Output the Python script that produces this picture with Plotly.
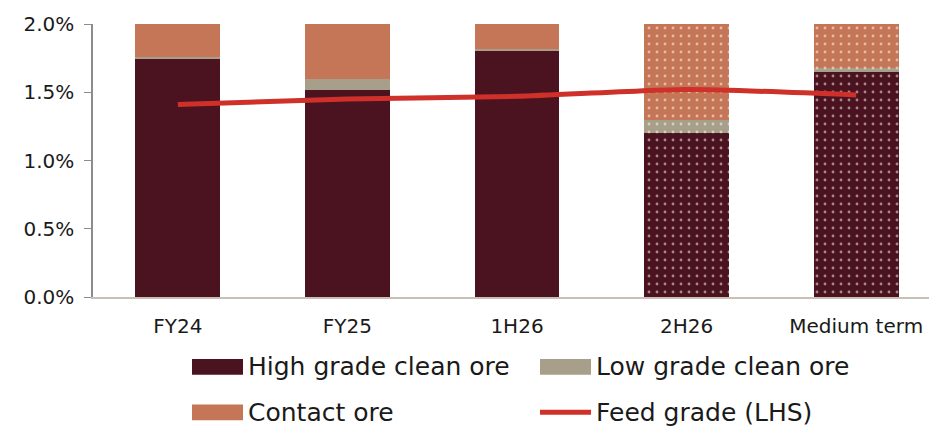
"""Ore mix by category vs feed grade."""

import plotly.graph_objects as go

categories = ["FY24", "FY25", "1H26", "2H26", "Medium term"]
high_grade = [1.74, 1.515, 1.80, 1.20, 1.645]
low_grade = [0.02, 0.085, 0.02, 0.10, 0.03]
contact_ore = [0.24, 0.40, 0.18, 0.70, 0.325]
feed_grade = [1.41, 1.45, 1.47, 1.52, 1.48]
patterns = ["", "", "", ".", "."]

FONT = "DejaVu Sans"
W, H = 937, 428
OFF = 8  # page body margin in the browser
L, R, T, B = 85, 4, 12, 139

colors = {
    "High grade clean ore": "#4A131F",
    "Low grade clean ore": "#A89F8A",
    "Contact ore": "#C47657",
}

fig = go.Figure()
for name, vals in [("High grade clean ore", high_grade),
                   ("Low grade clean ore", low_grade),
                   ("Contact ore", contact_ore)]:
    fig.add_trace(go.Bar(
        x=categories, y=vals, name=name, width=0.5,
        marker=dict(
            color=colors[name], line=dict(width=0),
            pattern=dict(shape=patterns, fgcolor="white", size=8, solidity=0.1),
        ),
        showlegend=False,
    ))

fig.add_trace(go.Scatter(
    x=categories, y=feed_grade, name="Feed grade (LHS)",
    mode="lines", line=dict(color="#CF302A", width=5, shape="spline", smoothing=0.6),
    showlegend=False,
))

# manual legend (wide swatches like the original); positions in screen pixels
pw, ph = W - L - R, H - T - B


def px(x):
    return (x - OFF - L) / pw


def py(y):
    return (H - B - (y - OFF)) / ph


legend_items = [
    ("High grade clean ore", "rect", colors["High grade clean ore"], 192, 368),
    ("Low grade clean ore", "rect", colors["Low grade clean ore"], 540, 368),
    ("Contact ore", "rect", colors["Contact ore"], 192, 414),
    ("Feed grade (LHS)", "line", "#CF302A", 540, 414),
]
shapes = []
annotations = []
for label, kind, col, x0, yc in legend_items:
    if kind == "rect":
        shapes.append(dict(type="rect", xref="paper", yref="paper",
                           x0=px(x0), x1=px(x0 + 51), y0=py(yc + 8), y1=py(yc - 8),
                           fillcolor=col, line=dict(width=0)))
    else:
        shapes.append(dict(type="line", xref="paper", yref="paper",
                           x0=px(x0), x1=px(x0 + 51), y0=py(yc), y1=py(yc),
                           line=dict(color=col, width=5)))
    annotations.append(dict(text=label, xref="paper", yref="paper",
                            x=px(x0 + 54), y=py(yc), xanchor="left", yanchor="middle",
                            showarrow=False, font=dict(size=25, color="#1a1a1a", family=FONT)))

fig.update_layout(
    barmode="stack",
    width=W, height=H,
    margin=dict(l=L, r=R, t=T, b=B),
    plot_bgcolor="white", paper_bgcolor="white",
    font=dict(family=FONT, color="#1a1a1a"),
    shapes=shapes,
    annotations=annotations,
    xaxis=dict(
        range=[-0.5, 4.5], showline=True, linecolor="#C9C0B3", linewidth=2,
        ticks="", tickfont=dict(size=20), showgrid=False, ticklabelstandoff=10,
    ),
    yaxis=dict(
        range=[0, 2.0], tickvals=[0, 0.5, 1.0, 1.5, 2.0],
        ticktext=["0.0%", "0.5%", "1.0%", "1.5%", "2.0%"],
        showline=True, linecolor="#8C8C8C", linewidth=1.5,
        ticks="outside", ticklen=7, tickcolor="#8C8C8C", ticklabelstandoff=6,
        tickfont=dict(size=20), showgrid=False, zeroline=False,
    ),
)

fig.write_html("out.html")
